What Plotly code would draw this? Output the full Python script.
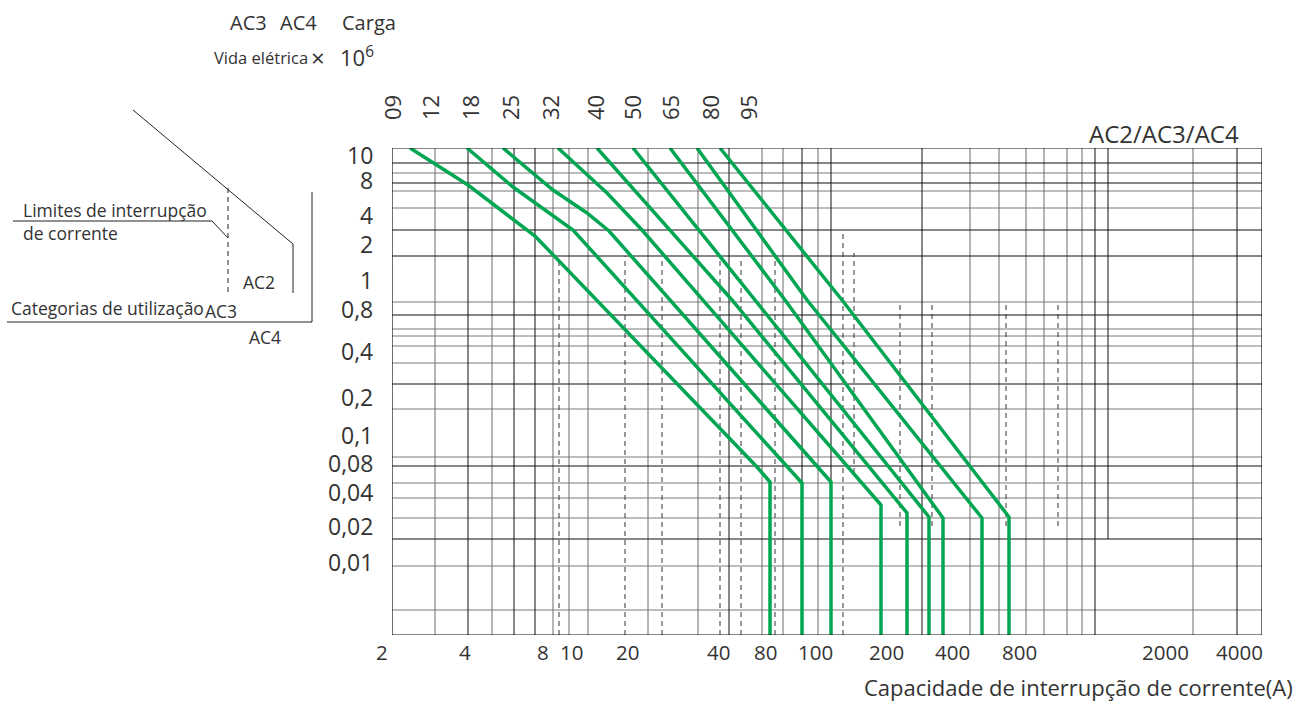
import plotly.graph_objects as go

W, H = 1307, 702
FONT = "Open Sans"
TXT = "#333333"
GREEN = "#00a651"

# ---------------- data (chart units: x 0..870 left->right, y 0..487 bottom->top) -------------
x_tick_labels = ["2", "4", "8", "10", "20", "40", "80", "100", "200", "400", "800", "2000", "4000"]
x_tick_pos = [-10, 73, 151, 179, 235, 326, 373, 424, 494, 560, 627, 773, 847]

y_tick_labels = ["10", "8", "4", "2", "1", "0,8", "0,4", "0,2", "0,1", "0,08", "0,04", "0,02", "0,01"]
y_tick_pos = [480, 455, 420, 391, 355, 326, 284, 238, 200, 172, 143, 109, 73]

size_labels = ["09", "12", "18", "25", "32", "40", "50", "65", "80", "95"]
size_pos = [0, 38, 78, 118, 158, 203, 240, 278, 318, 356]

curves_x = [
    [18, 76, 143, 365, 378, 378],
    [75, 121, 181, 410, 410],
    [111, 161, 195, 217, 439, 439],
    [166, 215, 250, 489, 489],
    [205, 340, 515, 515],
    [241, 537, 537],
    [278, 393, 551, 551],
    [305, 415, 590, 590],
    [328, 450, 617, 617],
]
curves_y = [
    [487, 450, 399, 168, 153, 0],
    [487, 448, 405, 152, 0],
    [487, 445, 422, 404, 153, 0],
    [487, 442, 405, 130, 0],
    [487, 335, 122, 0],
    [487, 118, 0],
    [487, 335, 117, 0],
    [487, 335, 117, 0],
    [487, 335, 118, 0],
]

vgrid_dark = [76, 122, 143, 337, 410, 439, 530, 703, 845]
vgrid_gray = [43, 100, 161, 177, 196, 256, 306, 370, 391, 426, 578, 607, 634, 652, 675, 690, 801]
vgrid_partial = [(716, 96, 487)]
hgrid_dark = [472, 452, 405, 379, 320, 251, 169, 96]
hgrid_gray = [462, 444, 427, 333, 306, 299, 289, 272, 226, 178, 152, 137, 117, 69, 25]

dash_x = [167, 233, 270, 328, 349, 383, 451, 462, 508, 540, 614, 666]
dash_top = [373, 379, 378, 377, 377, 377, 403, 382, 333, 333, 333, 333]
dash_bot = [0, 0, 0, 0, 0, 0, 0, 162, 109, 109, 109, 109]

XMAX, YMAX = 870, 487

fig = go.Figure()


def seg_trace(xs, ys, color, width=1, dash="solid"):
    fig.add_trace(go.Scatter(x=xs, y=ys, mode="lines", hoverinfo="skip", showlegend=False,
                             line=dict(color=color, width=width, dash=dash)))


def vlines(xlist, y0=0, y1=YMAX):
    xs, ys = [], []
    for v in xlist:
        xs += [v, v, None]
        ys += [y0, y1, None]
    return xs, ys


def hlines(ylist):
    xs, ys = [], []
    for v in ylist:
        xs += [0, XMAX, None]
        ys += [v, v, None]
    return xs, ys


seg_trace(*hlines(hgrid_gray), "#7a7a7a")
seg_trace(*vlines(vgrid_gray), "#6a6a6a")
seg_trace(*hlines(hgrid_dark), "#111111")
seg_trace(*vlines(vgrid_dark), "#111111")
for (vx, vy0, vy1) in vgrid_partial:
    seg_trace([vx, vx], [vy0, vy1], "#111111")

dxs, dys = [], []
for dx, t, b in zip(dash_x, dash_top, dash_bot):
    dxs += [dx, dx, None]
    dys += [b, t, None]
seg_trace(dxs, dys, "#333333", 1, "5px,4px")

for cx, cy in zip(curves_x, curves_y):
    seg_trace(cx, cy, GREEN, 3.5)

shapes = [dict(type="rect", xref="x", yref="y", x0=0, x1=XMAX, y0=0, y1=YMAX,
               line=dict(color="#111", width=1.2))]


def px(xp):
    return xp / W


def py(yp):
    return 1 - yp / H


def ux(u):
    # chart x units -> paper
    return (392 + u * (1262 - 392) / XMAX) / W


def pline(pts, dash="solid"):
    path = "M " + " L ".join(f"{px(a)},{py(b)}" for a, b in pts)
    shapes.append(dict(type="path", xref="paper", yref="paper", path=path,
                       line=dict(color="#222", width=1, dash=dash)))


# left explanatory diagram
pline([(133, 110), (293, 244), (293, 293)])
pline([(228, 188), (228, 292)], dash="5px,4px")
pline([(13, 221), (212, 221), (228, 238)])
pline([(312, 192), (312, 322), (7, 322)])

ann = []


def ptext(t, x, y, size, xanchor="left", angle=0):
    ann.append(dict(text=t, xref="paper", yref="paper", x=px(x), y=py(y), showarrow=False,
                    xanchor=xanchor, yanchor="middle", textangle=angle,
                    font=dict(family=FONT, size=size, color=TXT)))


for lab, pos in zip(x_tick_labels, x_tick_pos):
    ann.append(dict(text=lab, xref="paper", yref="paper", x=ux(pos), y=py(652), showarrow=False,
                    xanchor="center", yanchor="middle", font=dict(family=FONT, size=20.5, color=TXT)))
for lab, pos in zip(y_tick_labels, y_tick_pos):
    ann.append(dict(text=lab, xref="paper", yref="y", x=px(375), y=pos, showarrow=False,
                    xanchor="right", yanchor="middle", font=dict(family=FONT, size=23, color=TXT)))
for lab, pos in zip(size_labels, size_pos):
    ann.append(dict(text=lab, xref="paper", yref="paper", x=ux(pos), y=py(108), showarrow=False,
                    xanchor="center", yanchor="middle", textangle=-90,
                    font=dict(family=FONT, size=22, color=TXT)))

ptext("AC2/AC3/AC4", 1241, 133, 24, xanchor="right")
ptext("Capacidade de interrupção de corrente(A)", 1295, 687, 22, xanchor="right")

ptext("AC3", 228, 22, 20)
ptext("AC4", 278, 22, 20)
ptext("Carga", 340, 22, 20)
ptext("Vida elétrica", 212, 58, 16.5)
ptext("×", 309, 58, 24)
ptext("10<sup>6</sup>", 338, 56, 22)

ptext("Limites de interrupção", 21, 210, 17.5)
ptext("de corrente", 21, 233, 17.5)
ptext("AC2", 241, 282, 17.5)
ptext("Categorias de utilização", 9, 308, 17.5)
ptext("AC3", 203, 311, 17.5)
ptext("AC4", 247, 337, 17.5)

fig.update_layout(
    width=W, height=H, margin=dict(l=0, r=0, t=0, b=0),
    paper_bgcolor="white", plot_bgcolor="white",
    xaxis=dict(domain=[392 / W, 1262 / W], range=[0, XMAX], visible=False, fixedrange=True),
    yaxis=dict(domain=[(H - 635) / H, (H - 148) / H], range=[0, YMAX], visible=False, fixedrange=True),
    shapes=shapes, annotations=ann, showlegend=False,
)

fig.write_html("out.html", config={"displayModeBar": False, "staticPlot": True},
               post_script="document.body.style.margin='0';document.body.style.overflow='hidden';")
